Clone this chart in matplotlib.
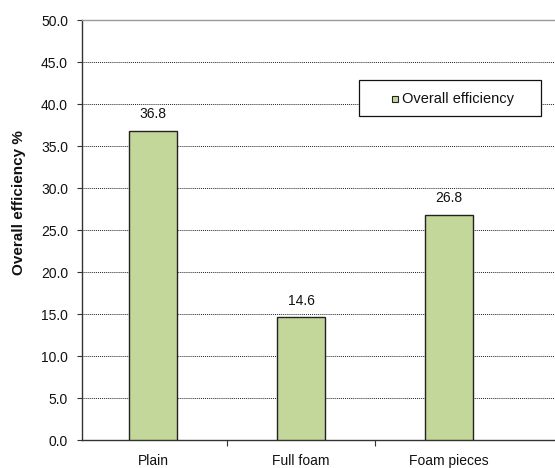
import matplotlib
matplotlib.use("Agg")
import matplotlib.pyplot as plt
from matplotlib.ticker import FixedLocator, FormatStrFormatter
from matplotlib.patches import Rectangle

categories = ["Plain", "Full foam", "Foam pieces"]
efficiency = [36.8, 14.6, 26.8]
y_ticks = [0, 5, 10, 15, 20, 25, 30, 35, 40, 45, 50]
series_name = "Overall efficiency"

plt.rcParams["font.family"] = ["Liberation Sans", "DejaVu Sans"]

W, H = 555, 468
fig = plt.figure(figsize=(W / 100, H / 100), dpi=100)
ax_left, ax_right, ax_top, ax_bottom = 82, 566, 20, 440
ax = fig.add_axes([ax_left / W, 1 - ax_bottom / H,
                   (ax_right - ax_left) / W, (ax_bottom - ax_top) / H])

bar_color = "#C4D79B"
x = list(range(len(categories)))
bars = ax.bar(x, efficiency, width=0.33, color=bar_color, edgecolor="#222222",
              linewidth=1.0, zorder=3, label=series_name)

for b, v in zip(bars, efficiency):
    ax.annotate(f"{v:.1f}", (b.get_x() + b.get_width() / 2, v),
                xytext=(0, 7), textcoords="offset points",
                ha="center", va="bottom", fontsize=10, color="#111111")

unit_px = 148
ax.set_xlim(-0.48, -0.48 + (ax_right - ax_left) / unit_px)
ax.set_ylim(0, 50)
ax.set_yticks(y_ticks)
ax.yaxis.set_major_formatter(FormatStrFormatter("%.1f"))
ax.tick_params(axis="y", labelsize=10, length=3.5, width=0.8, color="#333333",
               pad=6.5, labelcolor="#111111")

ax.set_xticks(x)
ax.set_xticklabels(categories, fontsize=10, color="#111111")
ax.tick_params(axis="x", which="major", length=0, pad=10)
ax.xaxis.set_minor_locator(FixedLocator([0.5, 1.5]))
ax.tick_params(axis="x", which="minor", length=4, width=0.8, color="#333333")

ax.yaxis.grid(True, linestyle=(0, (1, 1)), color="#222222", linewidth=0.7, zorder=0)
ax.set_axisbelow(True)

for side in ("left", "bottom"):
    ax.spines[side].set_color("#333333")
    ax.spines[side].set_linewidth(1.0)
ax.spines["top"].set_color("#999999")
ax.spines["top"].set_linewidth(1.0)
ax.spines["right"].set_visible(False)

fig.text(19 / W, 1 - 203 / H, "Overall efficiency %", rotation=90,
         ha="center", va="center", fontsize=11, fontweight="bold", color="#111111")

# legend box with a single swatch entry
fx = lambda px: px / W
fy = lambda py: 1 - py / H
fig.patches.append(Rectangle((fx(359), fy(116)), fx(541) - fx(359), fy(80) - fy(116),
                             transform=fig.transFigure, facecolor="white",
                             edgecolor="#111111", linewidth=0.9, zorder=5))
fig.patches.append(Rectangle((fx(392), fy(102)), fx(398) - fx(392), fy(96) - fy(102),
                             transform=fig.transFigure, facecolor=bar_color,
                             edgecolor="#222222", linewidth=0.8, zorder=6))
fig.text(fx(402), fy(98.5), series_name, ha="left", va="center",
         fontsize=10.5, color="#111111", zorder=7)

fig.savefig("out.png", dpi=100)
